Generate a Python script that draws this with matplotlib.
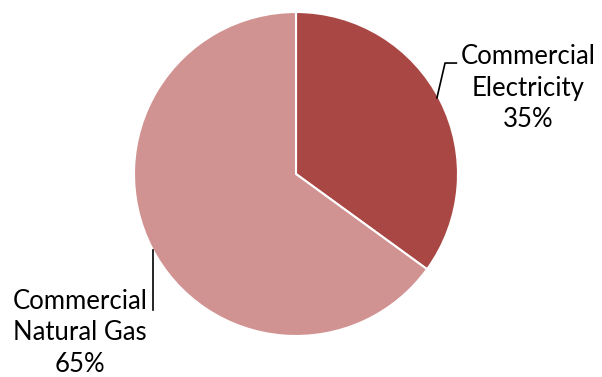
import matplotlib.pyplot as plt

# Datos del grafico
labels = ["Commercial\nElectricity\n35%", "Commercial\nNatural Gas\n65%"]
values = [35, 65]
colors = ["#A94744", "#D09391"]

plt.rcParams["font.family"] = ["Lato", "DejaVu Sans"]

fig = plt.figure(figsize=(6.02, 3.77), dpi=100)
# ejes cuadrados para que el pie quede circular
ax = fig.add_axes([134 / 602, (377 - 174 - 162) / 377, 324 / 602, 324 / 377])

ax.pie(values, colors=colors, startangle=90, counterclock=False,
       wedgeprops={"edgecolor": "white", "linewidth": 1.5})
ax.set_xlim(-1, 1)
ax.set_ylim(-1, 1)
ax.set_aspect("equal")
ax.axis("off")

# Etiquetas con lineas guia
ax.text(1.432, 0.53, labels[0], ha="center", va="center", fontsize=18.5,
        linespacing=1.33, clip_on=False)
ax.plot([0.87, 0.92, 0.99], [0.47, 0.685, 0.685], color="black", lw=1.2,
        clip_on=False)

ax.text(-1.333, -0.98, labels[1], ha="center", va="center", fontsize=18.5,
        linespacing=1.33, clip_on=False)
ax.plot([-0.88, -0.88], [-0.47, -0.84], color="black", lw=1.2, clip_on=False)

fig.savefig("out.png", dpi=100)
